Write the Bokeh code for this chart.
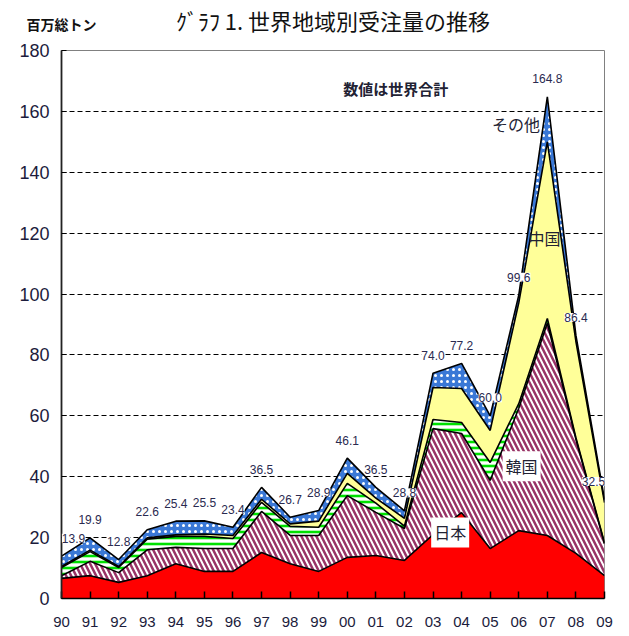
import numpy as np
from bokeh.plotting import figure
from bokeh.models import ColumnDataSource, FixedTicker, LabelSet, Label, Range1d, LinearAxis
from bokeh.core.properties import value
from bokeh.embed import file_html
from bokeh.resources import INLINE

years = ["90", "91", "92", "93", "94", "95", "96", "97", "98", "99",
         "00", "01", "02", "03", "04", "05", "06", "07", "08", "09"]
japan = [6.6, 7.5, 5.3, 7.5, 11.4, 8.9, 8.9, 15.1, 11.4, 8.9,
         13.5, 14.1, 12.5, 21.0, 28.2, 16.4, 22.3, 20.7, 14.8, 7.5]
korea = [0.9, 4.7, 3.2, 8.5, 5.4, 7.5, 7.5, 13.5, 9.3, 11.8,
         20.3, 14.2, 10.5, 34.8, 26.0, 22.4, 40.2, 69.8, 37.5, 10.5]
europe = [2.7, 3.2, 1.7, 3.5, 3.6, 4.0, 3.3, 3.0, 3.0, 2.7,
          4.0, 3.0, 0.8, 3.0, 3.6, 5.9, 1.5, 1.5, 0.5, 0.3]
china = [0.3, 0.5, 0.3, 0.4, 0.5, 0.8, 1.0, 1.0, 0.8, 2.0,
         3.3, 1.7, 2.5, 10.5, 11.2, 10.5, 33.1, 58.0, 31.6, 13.2]
other = [3.4, 4.0, 2.3, 2.7, 4.5, 4.3, 2.7, 3.9, 2.2, 3.5,
         5.0, 3.5, 2.5, 4.7, 8.2, 4.8, 2.5, 14.8, 2.0, 1.0]
totals = [13.9, 19.9, 12.8, 22.6, 25.4, 25.5, 23.4, 36.5, 26.7, 28.9,
          46.1, 36.5, 28.8, 74.0, 77.2, 60.0, 99.6, 164.8, 86.4, 32.5]
y_ticks = [0, 20, 40, 60, 80, 100, 120, 140, 160, 180]
grid_ticks = [20, 40, 60, 80, 100, 120, 140, 160]

title_text = "ｸﾞﾗﾌ 1. 世界地域別受注量の推移"
unit_text = "百万総トン"
unit_pos = 0   # x position (year index) where the unit caption is centred

# label nudges (screen px) so edge labels stay inside the frame
label_dx = [12] + [0] * 18 + [-11]

x = np.arange(len(years))
c1 = np.array(japan)
c2 = c1 + np.array(korea)
c3 = c2 + np.array(europe)
c4 = c3 + np.array(china)
c5 = c4 + np.array(other)
src = ColumnDataSource(dict(x=x, zero=np.zeros(len(x)), c1=c1, c2=c2, c3=c3, c4=c4, c5=c5,
                            tot=np.array(totals), dx=label_dx,
                            lab=["%.1f" % t for t in totals]))

JP = "Noto Sans CJK JP"
NUM = "Liberation Sans"

p = figure(width=629, height=636, output_backend="svg", toolbar_location=None,
           x_range=Range1d(0, 19), y_range=Range1d(0, 180),
           min_border_left=61, min_border_right=25, min_border_top=50, min_border_bottom=38)
p.title.visible = False

# header: unit caption as a tick label, chart title as the axis label of a top axis
hdr = LinearAxis(ticker=FixedTicker(ticks=[unit_pos]),
                 major_label_overrides={unit_pos: unit_text},
                 axis_line_color=None, major_tick_line_color=None, minor_tick_line_color=None,
                 major_tick_in=0, major_tick_out=0, minor_tick_in=0, minor_tick_out=0,
                 major_label_standoff=17,
                 major_label_text_font=JP, major_label_text_font_size="14px",
                 major_label_text_font_style="bold", major_label_text_color="#111111",
                 axis_label=title_text, axis_label_standoff=-25,
                 axis_label_text_font=JP, axis_label_text_font_size="22px",
                 axis_label_text_font_style="normal", axis_label_text_color="#111111")
p.add_layout(hdr, "above")

p.background_fill_color = "white"
p.border_fill_color = "white"
p.outline_line_color = "#808080"
p.outline_line_width = 1

p.xgrid.visible = False
p.ygrid.ticker = FixedTicker(ticks=grid_ticks)
p.ygrid.grid_line_color = "black"
p.ygrid.grid_line_dash = "5 3"
p.ygrid.grid_line_width = 1.2

p.varea(x="x", y1="zero", y2="c1", source=src, fill_color="#ff0000")
p.varea(x="x", y1="c1", y2="c2", source=src, fill_color="white",
        hatch_pattern="left_diagonal_line", hatch_color="#993366", hatch_scale=10, hatch_weight=2.5)
p.varea(x="x", y1="c2", y2="c3", source=src, fill_color="white",
        hatch_pattern="horizontal_line", hatch_color="#00e000", hatch_scale=6, hatch_weight=2.6)
p.varea(x="x", y1="c3", y2="c4", source=src, fill_color="#ffff99")
p.varea(x="x", y1="c4", y2="c5", source=src, fill_color="#3a78d6",
        hatch_pattern="dot", hatch_color="white", hatch_scale=6, hatch_weight=2)
for col in ["c1", "c2", "c3", "c4", "c5"]:
    p.line(x="x", y=col, source=src, line_color="black", line_width=1.6)

xa = p.below[0]
xa.ticker = FixedTicker(ticks=list(range(len(years))))
xa.major_label_overrides = {i: years[i] for i in range(len(years))}
xa.major_tick_in = 7
xa.major_tick_out = 0
xa.minor_tick_line_color = None
xa.axis_line_color = "black"
xa.axis_line_width = 1.5
xa.major_tick_line_color = "black"
xa.major_tick_line_width = 1.5
xa.major_label_text_font = NUM
xa.major_label_text_font_size = "15px"
xa.major_label_text_color = "#1c1c3c"
xa.major_label_standoff = 18

p.yaxis.ticker = FixedTicker(ticks=y_ticks)
p.yaxis.major_tick_in = 5
p.yaxis.major_tick_out = 0
p.yaxis.minor_tick_line_color = None
p.yaxis.axis_line_color = "#222222"
p.yaxis.axis_line_width = 1.8
p.yaxis.major_tick_line_color = "black"
p.yaxis.major_label_text_font = NUM
p.yaxis.major_label_text_font_size = "18px"
p.yaxis.major_label_text_color = "#1c1c3c"
p.yaxis.major_label_standoff = 12

labels = LabelSet(x="x", y="tot", text="lab", source=src, y_offset=18, x_offset="dx",
                  text_align="center", text_baseline="middle",
                  text_font=value(NUM), text_font_size="12px", text_color="#2a2a50",
                  background_fill_color="white")
p.add_layout(labels)

def add_text(t, xx, yy, size, bold=False, bg=None, color="#222233"):
    p.add_layout(Label(x=xx, y=yy, text=t, text_align="center", text_baseline="middle",
                       text_font=JP, text_font_size=size, text_color=color,
                       text_font_style="bold" if bold else "normal",
                       background_fill_color=bg, padding=3 if bg else 0))

add_text("日本", 13.6, 21.7, "16px", bg="white")
add_text("韓国", 16.1, 43.4, "16px", bg="white")
add_text("中国", 16.9, 118.3, "16px")
add_text("その他", 15.9, 155.7, "16px")
add_text("数値は世界合計", 11.7, 167.5, "15px", bold=True)

open("out.html", "w").write(file_html(p, INLINE))
